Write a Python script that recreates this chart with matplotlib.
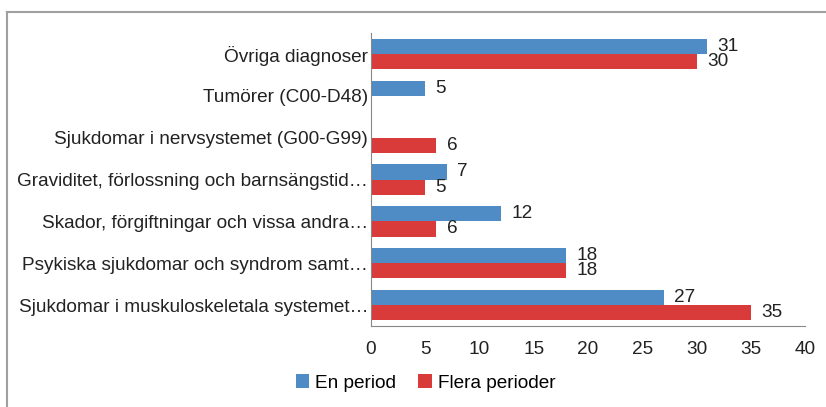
import matplotlib
matplotlib.use('Agg')
import matplotlib.pyplot as plt
from matplotlib.lines import Line2D
import numpy as np

categories = ['Övriga diagnoser',
              'Tumörer (C00-D48)',
              'Sjukdomar i nervsystemet (G00-G99)',
              'Graviditet, förlossning och barnsängstid…',
              'Skador, förgiftningar och vissa andra…',
              'Psykiska sjukdomar och syndrom samt…',
              'Sjukdomar i muskuloskeletala systemet…']
en_period = [31, 5, None, 7, 12, 18, 27]
flera_perioder = [30, None, 6, 5, 6, 18, 35]

blue = '#4F8BC4'
red = '#D93A3A'
plt.rcParams['font.family'] = ['Liberation Sans', 'DejaVu Sans']
fs = 13.7

fig = plt.figure(figsize=(8.26, 4.07), dpi=100)
ax = fig.add_axes([371/826, 1 - 326/407, 434/826, 293/407])

y = np.arange(len(categories))
h = 0.365
series = [(en_period, -h/2, blue, 'En period'),
          (flera_perioder, h/2, red, 'Flera perioder')]
for vals, off, col, lab in series:
    v = np.array([np.nan if x is None else x for x in vals], dtype=float)
    ax.barh(y + off, np.nan_to_num(v), height=h, color=col, label=lab)
    for yi, val in zip(y + off, vals):
        if val is None:
            continue
        ax.annotate(str(val), (val, yi), xytext=(7.5, 0), textcoords='offset points',
                    ha='left', va='center', fontsize=fs, color='#222222')

ax.set_xlim(0, 40)
ax.set_ylim(len(categories) - 0.5, -0.5)
ax.set_xticks(np.arange(0, 41, 5))
ax.set_yticks(y)
ax.set_yticklabels(categories)
ax.tick_params(axis='both', length=0, labelsize=fs, colors='#222222')
ax.tick_params(axis='x', pad=10.5)
ax.tick_params(axis='y', pad=2)
for s in ['top', 'right']:
    ax.spines[s].set_visible(False)
ax.spines['left'].set_color('#888888')
ax.spines['bottom'].set_color('#888888')

fig.legend(loc='center', bbox_to_anchor=(0.515, 1 - 383/407), ncol=2, frameon=False,
           fontsize=fs, handlelength=0.7, handleheight=0.7, handletextpad=0.3,
           columnspacing=1.2)

# outer chart frame
fc = '#A0A0A0'
fig.add_artist(Line2D([7/826, 1.01], [1 - 12/407] * 2, color=fc, lw=1.5))
fig.add_artist(Line2D([7/826] * 2, [1 - 12/407, -0.01], color=fc, lw=1.5))

fig.savefig('out.png', dpi=100)
